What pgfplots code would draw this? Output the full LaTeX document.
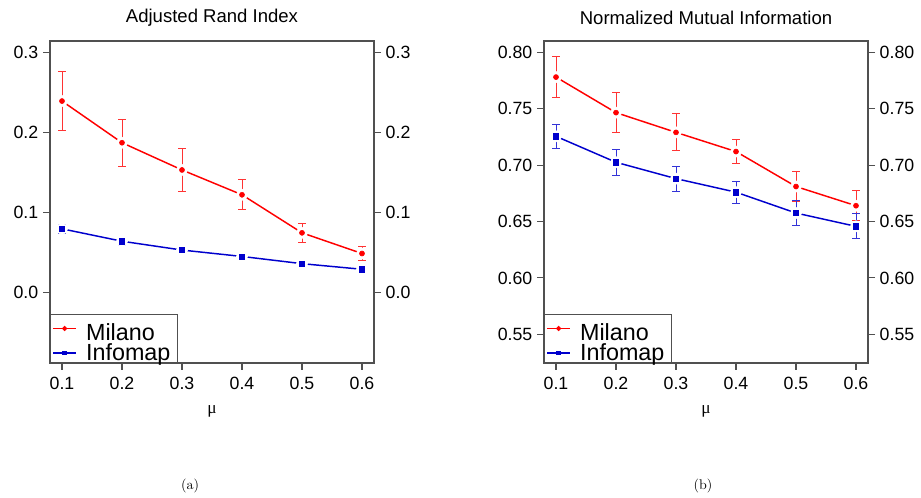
\documentclass[border=0pt]{standalone}
\usepackage{pgfplots}
\pgfplotsset{compat=1.18}
\usepackage{pgfplotstable}
\usepackage{fontspec}
\newfontfamily\arial{Liberation Sans}
\newfontfamily\greek{Liberation Serif}

\definecolor{rred}{HTML}{FF0000}
\definecolor{rblue}{HTML}{0000CD}
\definecolor{boxgray}{HTML}{505050}

% x  y  e
\pgfplotstableread{
x    y      e
0.1  0.239  0.037
0.2  0.187  0.0295
0.3  0.153  0.0265
0.4  0.122  0.0185
0.5  0.0745 0.0116
0.6  0.0487 0.0088
}\ariMilano
\pgfplotstableread{
x    y      e
0.1  0.0795 0.006
0.2  0.064  0.005
0.3  0.053  0.004
0.4  0.045  0.003
0.5  0.036  0.003
0.6  0.029  0.002
}\ariInfomap
\pgfplotstableread{
x    y      e
0.1  0.778  0.018
0.2  0.7465 0.018
0.3  0.729  0.0163
0.4  0.712  0.011
0.5  0.681  0.013
0.6  0.664  0.0135
}\nmiMilano
\pgfplotstableread{
x    y      e
0.1  0.7255 0.0105
0.2  0.7025 0.0115
0.3  0.688  0.011
0.4  0.676  0.0097
0.5  0.6575 0.011
0.6  0.6457 0.0112
}\nmiInfomap

\pgfplotsset{
  rpanel/.style={
    scale only axis, width=243pt, height=241.5pt,
    anchor=south west,
    xmin=0.08, xmax=0.62,
    xtick={0.1,0.2,...,0.6},
    tick align=outside, major tick length=5.25pt,
    axis line style={boxgray, line width=0.8pt},
    every tick/.style={boxgray, line width=0.8pt},
    ytick pos=left, xtick pos=bottom,
    tick label style={font=\arial\fontsize{13.3}{14}\selectfont},
    /pgf/number format/assume math mode=true,
    /pgf/number format/fixed, /pgf/number format/fixed zerofill,
    xticklabel style={/pgf/number format/precision=1, yshift=-2pt},
    title style={at={(0.5,1)}, anchor=center, yshift=11.5pt,
      font=\arial\fontsize{13.9}{15}\selectfont},
    xlabel={\greek\fontsize{13}{14}\selectfont μ},
    xlabel style={at={(0.5,0)}, anchor=center, yshift=-36pt},
    legend cell align=left,
    legend style={at={(0,0)}, anchor=south west, draw=boxgray, line width=0.8pt,
      fill=white, inner xsep=1.5pt, inner ysep=0pt,
      font=\arial\fontsize{17.5}{17.5}\selectfont,
      nodes={inner sep=0pt},
      column sep=7pt, row sep=0.6pt},
  },
  rright/.style={
    scale only axis, width=243pt, height=241.5pt,
    anchor=south west,
    xmin=0.08, xmax=0.62,
    axis x line=none, axis y line*=right,
    tick align=outside, major tick length=5.25pt,
    axis line style={boxgray, line width=0.8pt},
    every tick/.style={boxgray, line width=0.8pt},
    tick label style={font=\arial\fontsize{13.3}{14}\selectfont},
    /pgf/number format/assume math mode=true,
    /pgf/number format/fixed, /pgf/number format/fixed zerofill,
  },
  lineM/.style={rred, line width=1.1pt, forget plot},
  lineI/.style={rblue, line width=1.1pt, forget plot},
  halo/.style={only marks, mark=*, mark size=4.2pt, white, forget plot},
  ebM/.style={only marks, mark=*, mark size=1.9pt, rred, forget plot,
    error bars/.cd, y dir=both, y explicit,
    error bar style={rred!80, line width=0.75pt},
    error mark options={rotate=90, mark size=2.8pt, rred!80, line width=0.75pt}},
  ebI/.style={only marks, mark=square*, mark size=2pt, rblue, forget plot,
    error bars/.cd, y dir=both, y explicit,
    error bar style={rblue!80, line width=0.75pt},
    error mark options={rotate=90, mark size=2.8pt, rblue!80, line width=0.75pt}},
}

\begin{document}
\begin{tikzpicture}
\useasboundingbox (0,0) rectangle (690.75pt,373.5pt);

% ---- (a) Adjusted Rand Index
\begin{axis}[rpanel, at={(37.5pt,101.25pt)},
  ymin=-0.088, ymax=0.314, ytick={0,0.1,0.2,0.3},
  yticklabel style={/pgf/number format/precision=1},
  title={Adjusted Rand Index}]
\addplot[lineM] table[x=x,y=y] {\ariMilano};
\addplot[lineI] table[x=x,y=y] {\ariInfomap};
\addplot[halo] table[x=x,y=y] {\ariMilano};
\addplot[halo] table[x=x,y=y] {\ariInfomap};
\addplot[ebM] table[x=x,y=y,y error=e] {\ariMilano};
\addplot[ebI] table[x=x,y=y,y error=e] {\ariInfomap};
\addlegendimage{rred, line width=1.1pt, mark=*, mark size=1.3pt}
\addlegendentry{\rule{0pt}{20pt}Milano}
\addlegendimage{rblue, line width=1.1pt, mark=square*, mark size=1.3pt}
\addlegendentry{Infomap\kern3.75pt}
\end{axis}
\begin{axis}[rright, at={(37.5pt,101.25pt)},
  ymin=-0.088, ymax=0.314, ytick={0,0.1,0.2,0.3},
  yticklabel style={/pgf/number format/precision=1}]
\addplot[draw=none] coordinates {(0.1,0)};
\end{axis}

% ---- (b) Normalized Mutual Information
\begin{axis}[rpanel, at={(408pt,101.25pt)},
  ymin=0.5246, ymax=0.810, ytick={0.55,0.60,...,0.80},
  yticklabel style={/pgf/number format/precision=2},
  title={Normalized Mutual Information}]
\addplot[lineM] table[x=x,y=y] {\nmiMilano};
\addplot[lineI] table[x=x,y=y] {\nmiInfomap};
\addplot[halo] table[x=x,y=y] {\nmiMilano};
\addplot[halo] table[x=x,y=y] {\nmiInfomap};
\addplot[ebM] table[x=x,y=y,y error=e] {\nmiMilano};
\addplot[ebI] table[x=x,y=y,y error=e] {\nmiInfomap};
\addlegendimage{rred, line width=1.1pt, mark=*, mark size=1.3pt}
\addlegendentry{\rule{0pt}{20pt}Milano}
\addlegendimage{rblue, line width=1.1pt, mark=square*, mark size=1.3pt}
\addlegendentry{Infomap\kern3.75pt}
\end{axis}
\begin{axis}[rright, at={(408pt,101.25pt)},
  ymin=0.5246, ymax=0.810, ytick={0.55,0.60,...,0.80},
  yticklabel style={/pgf/number format/precision=2}]
\addplot[draw=none] coordinates {(0.1,0.6)};
\end{axis}

% sub-captions
\node[font=\fontsize{10.5}{12}\selectfont] at (142.5pt,9pt) {(a)};
\node[font=\fontsize{10.5}{12}\selectfont] at (527.25pt,9pt) {(b)};
\end{tikzpicture}
\end{document}
